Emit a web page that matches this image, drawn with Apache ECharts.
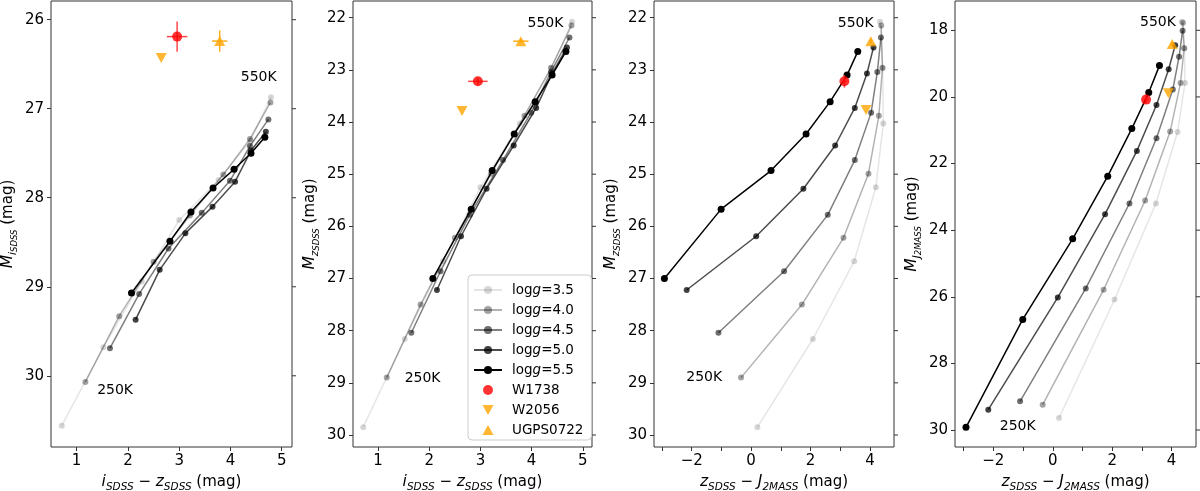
<!DOCTYPE html>
<html>
<head>
<meta charset="utf-8">
<script src="https://cdn.jsdelivr.net/npm/echarts@6/dist/echarts.min.js"></script>
<style>
html, body { margin: 0; padding: 0; background: #fff; }
#chart { width: 1200px; height: 491px; }
</style>
</head>
<body>
<div id="chart"></div>
<script>
// model grid: Teff 250..550 K, one row per logg
const teff = [250, 300, 350, 400, 450, 500, 550];
const loggs = ['3.5', '4.0', '4.5', '5.0', '5.5'];

// i_SDSS - z_SDSS
const izColor = [
    [0.71, 1.52, 2.27, 3.00, 3.77, 4.39, 4.79],
    [1.17, 1.83, 2.50, 3.21, 3.86, 4.38, 4.78],
    [1.65, 2.22, 2.79, 3.44, 3.99, 4.38, 4.74],
    [2.15, 2.62, 3.12, 3.65, 4.09, 4.40, 4.69],
    [2.07, 2.82, 3.23, 3.66, 4.07, 4.40, 4.67]
];
// z_SDSS - J_2MASS
const zjColor = [
    [0.21, 2.08, 3.47, 4.20, 4.45, 4.43, 4.34],
    [-0.34, 1.71, 3.11, 3.95, 4.30, 4.42, 4.38],
    [-1.10, 1.11, 2.58, 3.49, 4.04, 4.25, 4.37],
    [-2.17, 0.17, 1.76, 2.83, 3.49, 3.90, 4.12],
    [-2.92, -1.01, 0.67, 1.85, 2.66, 3.23, 3.59]
];
// absolute magnitudes
const absI = [
    [30.56, 29.68, 28.94, 28.25, 27.80, 27.36, 26.87],
    [30.07, 29.33, 28.72, 28.20, 27.74, 27.34, 26.93],
    [29.69, 29.08, 28.57, 28.17, 27.81, 27.42, 27.12],
    [29.37, 28.81, 28.40, 28.10, 27.82, 27.47, 27.26],
    [29.07, 28.49, 28.16, 27.89, 27.68, 27.50, 27.32]
];
const absZ = [
    [29.85, 28.16, 26.67, 25.25, 24.03, 22.97, 22.08],
    [28.90, 27.50, 26.22, 24.99, 23.88, 22.96, 22.15],
    [28.04, 26.86, 25.78, 24.73, 23.82, 23.04, 22.38],
    [27.22, 26.19, 25.28, 24.45, 23.73, 23.07, 22.57],
    [27.00, 25.67, 24.93, 24.23, 23.61, 23.10, 22.65]
];
const absJ = [
    [29.64, 26.08, 23.20, 21.05, 19.58, 18.54, 17.74],
    [29.24, 25.79, 23.11, 21.04, 19.58, 18.54, 17.77],
    [29.14, 25.75, 23.20, 21.24, 19.78, 18.79, 18.01],
    [29.39, 26.02, 23.52, 21.62, 20.24, 19.17, 18.45],
    [29.92, 26.68, 24.26, 22.38, 20.95, 19.87, 19.06]
];

// observed objects, one value per panel
const w1738X = [2.96, 2.95, 3.14, 3.14];
const w1738Y = [26.19, 23.22, 23.22, 20.08];
const w1738Ex = [0.20, 0.19, 0.08, 0.08];
const w1738Ey = [0.17, 0.07, 0.12, 0.12];
const w2056X = [2.65, 2.64, 3.87, 3.89];
const w2056Y = [26.43, 23.79, 23.77, 19.89];
const ugpsX = [3.79, 3.79, 4.03, 4.02];
const ugpsY = [26.24, 22.45, 22.45, 18.41];
const ugpsEx = [0.15, 0.15, 0.05, 0.05];
const ugpsEy = [0.12, 0.04, 0.05, 0.05];

// temperature annotations
const hotX = [4.55, 4.27, 3.52, 3.54];
const hotY = [26.65, 22.11, 22.11, 17.77];
const coldX = [1.75, 1.87, -1.58, -1.18];
const coldY = [30.16, 28.92, 28.90, 29.89];

// tick values
const ticksX12 = [1, 2, 3, 4, 5];
const ticksX34 = [-3, -2, -1, 0, 1, 2, 3, 4];
const labelsX34 = [-2, 0, 2, 4];
const ticksY1 = [26, 27, 28, 29, 30];
const ticksY23 = [22, 23, 24, 25, 26, 27, 28, 29, 30];
const ticksY4 = [18, 20, 22, 24, 26, 28, 30];

const F = 'DejaVu Sans';
const lineCol = ['rgba(0,0,0,0.1)', 'rgba(0,0,0,0.3)', 'rgba(0,0,0,0.5)', 'rgba(0,0,0,0.7)', 'rgba(0,0,0,1)'];
const dotCol = ['rgba(0,0,0,0.16)', 'rgba(0,0,0,0.36)', 'rgba(0,0,0,0.56)', 'rgba(0,0,0,0.74)', 'rgba(0,0,0,1)'];

const rich = {
    m: {fontFamily: F, fontSize: 15.5, fontStyle: 'italic', lineHeight: 22, verticalAlign: 'middle', color: '#000'},
    n: {fontFamily: F, fontSize: 15, lineHeight: 22, verticalAlign: 'middle', color: '#000'},
    s: {fontFamily: F, fontSize: 10.5, fontStyle: 'italic', lineHeight: 11, verticalAlign: 'bottom', color: '#000'},
    ss: {fontFamily: F, fontSize: 8.5, fontStyle: 'italic', lineHeight: 8, verticalAlign: 'bottom', color: '#000'}
};

let panels = [
    {left: 51, width: 241, x: [0.5, 5.2], y: [25.79, 30.8], xt: ticksX12, xl: ticksX12, yt: ticksY1,
     xs: izColor, ys: absI,
     xname: '{m|i}{s|SDSS}{n| − }{m|z}{s|SDSS}{n| (mag)}', yname: '{m|M}{s|i}{ss|SDSS}{n| (mag)}'},
    {left: 353, width: 239, x: [0.51, 5.18], y: [21.68, 30.23], xt: ticksX12, xl: ticksX12, yt: ticksY23,
     xs: izColor, ys: absZ,
     xname: '{m|i}{s|SDSS}{n| − }{m|z}{s|SDSS}{n| (mag)}', yname: '{m|M}{s|z}{ss|SDSS}{n| (mag)}'},
    {left: 654, width: 240, x: [-3.27, 4.81], y: [21.68, 30.23], xt: ticksX34, xl: labelsX34, yt: ticksY23,
     xs: zjColor, ys: absZ,
     xname: '{m|z}{s|SDSS}{n| − }{m|J}{s|2MASS}{n| (mag)}', yname: '{m|M}{s|z}{ss|SDSS}{n| (mag)}'},
    {left: 955, width: 241, x: [-3.29, 4.82], y: [17.12, 30.51], xt: ticksX34, xl: labelsX34, yt: ticksY4,
     xs: zjColor, ys: absJ,
     xname: '{m|z}{s|SDSS}{n| − }{m|J}{s|2MASS}{n| (mag)}', yname: '{m|M}{s|J}{ss|2MASS}{n| (mag)}'}
];

let grids = [], xAxes = [], yAxes = [], series = [];

function fmt(v) { return String(v).replace('-', '−'); }

panels.forEach((p, k) => {
    grids.push({left: p.left, top: 1, width: p.width, height: 446,
        outerBoundsMode: 'none', containLabel: false,
        show: true, borderColor: '#333', borderWidth: 1, backgroundColor: 'transparent'});

    xAxes.push({
        type: 'value', gridIndex: k, min: p.x[0], max: p.x[1],
        splitLine: {show: false},
        axisLine: {show: false, onZero: false},
        axisTick: {show: true, length: 4, lineStyle: {color: '#333'}, customValues: p.xt},
        axisLabel: {customValues: p.xl, formatter: fmt, margin: 7, fontFamily: F, fontSize: 15, color: '#000'},
        name: p.xname, nameLocation: 'middle', nameGap: 23,
        nameTextStyle: {rich: rich}
    });
    yAxes.push({
        type: 'value', gridIndex: k, min: p.y[0], max: p.y[1], inverse: true, position: 'left',
        splitLine: {show: false},
        axisLine: {show: false, onZero: false},
        axisTick: {show: true, length: 4, lineStyle: {color: '#333'}, customValues: p.yt},
        axisLabel: {customValues: p.yt, margin: 7, fontFamily: F, fontSize: 15, color: '#000'},
        name: p.yname, nameLocation: 'middle', nameGap: 32, nameRotate: 90,
        nameTextStyle: {rich: rich}
    });

    // mirrored ticks on the right spine
    let xmax = p.x[1];
    series.push({
        type: 'custom',
        xAxisIndex: k, yAxisIndex: k,
        data: p.yt.map(v => [xmax, v]),
        clip: false,
        silent: true,
        z: 1,
        renderItem: function (params, api) {
            let pt = api.coord([xmax, p.yt[params.dataIndex]]);
            return {type: 'line', shape: {x1: pt[0], y1: pt[1], x2: pt[0] + 4, y2: pt[1]},
                    style: {stroke: '#333', lineWidth: 1}};
        }
    });

    loggs.forEach((g, gi) => {
        let data = p.xs[gi].map((v, i) => [v, p.ys[gi][i]]);
        series.push({
            name: 'logg=' + g,
            type: 'line',
            xAxisIndex: k, yAxisIndex: k,
            data: data,
            symbol: 'circle',
            symbolSize: gi == 4 ? 7 : 6,
            showSymbol: true,
            lineStyle: {color: lineCol[gi], width: 1.5},
            itemStyle: {color: dotCol[gi]},
            z: 2 + gi * 0.01
        });
    });

    // error bars
    let errs = [
        {x: w1738X[k], y: w1738Y[k], ex: w1738Ex[k], ey: w1738Ey[k], c: 'rgba(255,40,40,0.85)'},
        {x: ugpsX[k], y: ugpsY[k], ex: ugpsEx[k], ey: ugpsEy[k], c: 'rgba(255,165,0,0.9)'}
    ];
    series.push({
        type: 'custom',
        xAxisIndex: k, yAxisIndex: k,
        data: errs.map(e => [e.x, e.y]),
        z: 3,
        silent: true,
        renderItem: function (params, api) {
            let e = errs[params.dataIndex];
            let a = api.coord([e.x - e.ex, e.y]), b = api.coord([e.x + e.ex, e.y]);
            let c = api.coord([e.x, e.y - e.ey]), d = api.coord([e.x, e.y + e.ey]);
            return {
                type: 'group',
                children: [
                    {type: 'line', shape: {x1: a[0], y1: a[1], x2: b[0], y2: b[1]}, style: {stroke: e.c, lineWidth: 1.5}},
                    {type: 'line', shape: {x1: c[0], y1: c[1], x2: d[0], y2: d[1]}, style: {stroke: e.c, lineWidth: 1.5}}
                ]
            };
        }
    });

    series.push({
        name: 'W1738', type: 'scatter', xAxisIndex: k, yAxisIndex: k,
        data: [[w1738X[k], w1738Y[k]]], symbol: 'circle', symbolSize: 10,
        itemStyle: {color: '#ff0000'}, z: 4
    });
    series.push({
        name: 'W2056', type: 'scatter', xAxisIndex: k, yAxisIndex: k,
        data: [[w2056X[k], w2056Y[k]]], symbol: 'triangle', symbolRotate: 180, symbolSize: [11, 10],
        itemStyle: {color: '#ffa500'}, z: 4
    });
    series.push({
        name: 'UGPS0722', type: 'scatter', xAxisIndex: k, yAxisIndex: k,
        data: [[ugpsX[k], ugpsY[k]]], symbol: 'triangle', symbolSize: [11, 10],
        itemStyle: {color: '#ffa500'}, z: 4
    });

    // 550K / 250K labels
    let notes = [[hotX[k], hotY[k], '550K'], [coldX[k], coldY[k], '250K']];
    series.push({
        type: 'custom',
        xAxisIndex: k, yAxisIndex: k,
        data: notes.map(n => [n[0], n[1]]),
        z: 5,
        silent: true,
        renderItem: function (params, api) {
            let n = notes[params.dataIndex];
            let pt = api.coord([n[0], n[1]]);
            return {
                type: 'text', x: pt[0], y: pt[1],
                style: {text: n[2], align: 'center', verticalAlign: 'middle',
                        fontFamily: F, fontSize: 14, fill: '#000'}
            };
        }
    });
});

var myChart = echarts.init(document.getElementById('chart'));

let option = {
    animation: false,
    backgroundColor: '#fff',
    grid: grids,
    xAxis: xAxes,
    yAxis: yAxes,
    legend: {
        data: ['logg=3.5', 'logg=4.0', 'logg=4.5', 'logg=5.0', 'logg=5.5',
            {name: 'W1738', icon: 'circle'},
            {name: 'W2056', icon: 'path://M0,0L11,0L5.5,10Z'},
            {name: 'UGPS0722', icon: 'path://M5.5,0L11,10L0,10Z'}],
        orient: 'vertical',
        left: 468, top: 275,
        itemWidth: 28, itemHeight: 10, itemGap: 6,
        padding: [8, 8, 3, 5],
        backgroundColor: 'rgba(255,255,255,0.85)',
        borderColor: '#ccc', borderWidth: 1, borderRadius: 4,
        selectedMode: false,
        formatter: function (name) {
            if (name.indexOf('logg') === 0) return '{n|log}{i|g}{n|' + name.slice(4) + '}';
            return '{n|' + name + '}';
        },
        textStyle: {
            padding: [0, 0, 0, 5],
            rich: {
                n: {fontFamily: F, fontSize: 13.5, lineHeight: 14, color: '#000'},
                i: {fontFamily: F, fontSize: 13.5, lineHeight: 14, fontStyle: 'italic', color: '#000'}
            }
        }
    },
    series: series
};

myChart.setOption(option);
</script>
</body>
</html>
